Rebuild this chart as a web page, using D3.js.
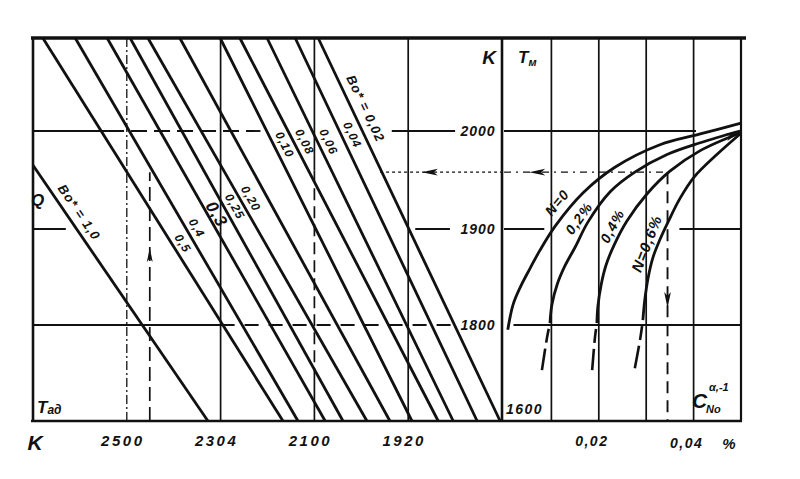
<!DOCTYPE html>
<html><head><meta charset="utf-8">
<script src="https://cdn.jsdelivr.net/npm/d3@7"></script>
<style>body{margin:0;background:#fff}svg{display:block}</style>
</head><body>
<svg id="c" width="800" height="479"></svg>
<script>
// ---------------- data ----------------
const tadTickValues = [2500, 2300, 2100, 1900];
const tadTickLabels = ["2500", "2304", "2100", "1920"];
const tmTickValues = [2000, 1900, 1800, 1600];
const tmTickLabels = ["2000", "1900", "1800", "1600"];
const cTickValues = [0.02, 0.04];
const cTickLabels = ["0,02", "0,04"];
const cGridValues = [0.01, 0.02, 0.03, 0.04];

// Bo* lines in the left panel: start (Tad, Tm) and end (Tad, Tm)
const boLabels   = ["Bo* = 1,0", "0,5", "0,4", "0,3", "0,25", "0,20", "", "0,10", "0,08", "0,06", "0,04", "Bo* = 0,02"];
const boStartTad = [2700, 2679, 2610, 2542, 2493, 2455, 2387, 2301, 2259, 2201, 2141, 2092];
const boStartTm  = [1965, 2095, 2095, 2095, 2095, 2095, 2095, 2095, 2095, 2095, 2095, 2095];
const boEndTad   = [2327, 2167, 2135, 2077, 2039, 1988, 1939, 1892, 1836, 1804, 1753, 1704];
const boEndTm    = [1600, 1600, 1600, 1600, 1600, 1600, 1600, 1600, 1600, 1600, 1600, 1600];
const boLabelTm  = [1917, 1885, 1901, 1915, 1923, 1931, null, 1986, 1989, 1989, 1996, 2023];

// right panel curves: [C, Tm]
const curveNames = ["N=0", "0,2%", "0,4%", "N=0,6%"];
const curveN0 = [[0.0008,1790],[0.0019,1821],[0.0034,1839],[0.0055,1859],[0.0076,1878],[0.0108,1903],[0.0167,1937],[0.0234,1963],[0.0329,1986],[0.0414,1997],[0.0500,2008]];
const curveN2 = [[0.0097,1802],[0.0101,1821],[0.0112,1842],[0.0129,1862],[0.0150,1881],[0.0177,1907],[0.0224,1938],[0.0276,1958],[0.0344,1976],[0.0414,1988],[0.0498,2000]];
const curveN4 = [[0.0196,1802],[0.0198,1819],[0.0205,1842],[0.0215,1862],[0.0232,1883],[0.0259,1908],[0.0302,1936],[0.0350,1959],[0.0414,1980],[0.0498,1998]];
const curveN6 = [[0.0293,1805],[0.0297,1826],[0.0304,1849],[0.0314,1870],[0.0329,1889],[0.0346,1907],[0.0371,1931],[0.0401,1953],[0.0449,1976],[0.0498,1997]];
const dashN2 = [[0.0097,1802],[0.0091,1775],[0.0080,1706]];
const dashN4 = [[0.0196,1802],[0.0192,1775],[0.0186,1706]];
const dashN6 = [[0.0293,1805],[0.0287,1769],[0.0276,1710]];
const curveLabelTm = [1927, 1911, 1903, 1885];

// worked example path
const exampleTad = 2451, exampleTm = 1958, exampleC = 0.0345, exampleTadStartH = 1960;

// ---------------- layout ----------------
const svg = d3.select("#c");
const L = 33, R = 741, T = 38, B = 421, MID = 502;
const xL = d3.scaleLinear().domain([2700, 1700]).range([L, MID]);
const xR = d3.scaleLinear().domain([0, 0.05]).range([504, R]);
const y = d3.scaleLinear().domain([1600, 1800, 1900, 2000, 2095]).range([B, 325, 229, 131, T]);
const ink = "#111";
const fontF = "'Liberation Sans', Arial, sans-serif";

function seg(x1, y1, x2, y2, w, dash) {
  const l = svg.append("line").attr("x1", x1).attr("y1", y1).attr("x2", x2).attr("y2", y2)
    .attr("stroke", ink).attr("stroke-width", w).attr("stroke-linecap", "butt");
  if (dash) l.attr("stroke-dasharray", dash);
  return l;
}

// ---------- grid (left panel verticals) ----------
seg(xL(2500), T, xL(2500), B, 1.3, "9,3,2,3");
seg(xL(2300), T, xL(2300), B, 1.7);
seg(xL(2100), T, xL(2100), y(1960), 1.7);
seg(xL(2100), y(1960), xL(2100), y(1700), 1.7, "12,6");
seg(xL(2100), y(1700), xL(2100), B, 1.7);
seg(xL(1900), T, xL(1900), B, 1.7);

// right panel verticals
cGridValues.forEach(c => seg(xR(c), T, xR(c), B, 1.7));

// horizontal gridlines
seg(L, y(2000), xL(2540), y(2000), 1.9);
seg(xL(2540), y(2000), xL(2215), y(2000), 1.9, "16,7");
seg(xL(1935), y(2000), xL(1800), y(2000), 1.9);
seg(xR(0), y(2000), xR(0.0405), y(2000), 1.9);

seg(L, y(1900), xL(2630), y(1900), 1.9);
seg(xL(1885), y(1900), xL(1811), y(1900), 1.9);
seg(xR(0), y(1900), xR(0.0085), y(1900), 1.9);
seg(xR(0.0370), y(1900), R, y(1900), 1.9);

seg(L, y(1800), xL(2300), y(1800), 1.9);
seg(xL(2300), y(1800), xL(1800), y(1800), 1.9, "14,10");
seg(xR(0.002), y(1800), R, y(1800), 1.9);

// ---------- worked example (dashed path with arrows) ----------
seg(xL(exampleTad), B, xL(exampleTad), y(exampleTm), 1.7, "14,6");
seg(xL(exampleTadStartH), y(exampleTm), MID, y(exampleTm), 1.2, "3,3");
seg(xR(0), y(exampleTm), xR(exampleC), y(exampleTm), 1.2, "7,5,2,5");
seg(xR(exampleC), y(exampleTm), xR(exampleC), B, 1.9, "12,7");

function arrow(px, py, angleDeg, size) {
  const s = size || 7;
  svg.append("path")
    .attr("d", `M${s},0 L${-s},${-s*0.42} L${-s*0.5},0 L${-s},${s*0.42}Z`)
    .attr("fill", ink)
    .attr("transform", `translate(${px},${py}) rotate(${angleDeg})`);
}
arrow(xL(exampleTad), y(1873), -90, 7);
arrow(xL(1854), y(exampleTm), 180, 8);
arrow(xR(0.007), y(exampleTm), 180, 8);
arrow(xR(exampleC), y(1826), 90, 8);

// ---------- Bo* lines ----------
boLabels.forEach((lab, i) => {
  const x1 = xL(boStartTad[i]), y1 = y(boStartTm[i]);
  const x2 = xL(boEndTad[i]), y2 = y(boEndTm[i]);
  seg(x1, y1, x2, y2, 2.8);
  if (lab && boLabelTm[i] != null) {
    const ly = y(boLabelTm[i]);
    const t = (ly - y1) / (y2 - y1);
    const lx = x1 + t * (x2 - x1);
    const ang = Math.atan2(y2 - y1, x2 - x1) * 180 / Math.PI;
    const bold = lab === "0,3";
    const big = lab.startsWith("Bo");
    const off = big ? 14 : (bold ? 9 : 11);
    svg.append("text")
      .attr("transform", `translate(${lx + off},${ly}) rotate(${ang})`)
      .attr("text-anchor", "middle")
      .attr("dominant-baseline", "central")
      .attr("font-family", fontF)
      .attr("font-style", "italic")
      .attr("font-weight", bold ? "900" : "bold")
      .attr("font-size", bold ? 17 : (big ? 13 : 12))
      .attr("letter-spacing", 1)
      .attr("fill", ink)
      .text(lab);
  }
});

// ---------- right panel curves ----------
const lineGenC = d3.line().x(d => xR(d[0])).y(d => y(d[1])).curve(d3.curveCatmullRom.alpha(0.5));
const curves = [curveN0, curveN2, curveN4, curveN6];
curves.forEach(cv => {
  svg.append("path").attr("d", lineGenC(cv)).attr("fill", "none")
    .attr("stroke", ink).attr("stroke-width", 2.8).attr("stroke-linejoin", "round");
});
[dashN2, dashN4, dashN6].forEach(cv => {
  svg.append("path").attr("d", lineGenC(cv)).attr("fill", "none")
    .attr("stroke", ink).attr("stroke-width", 2.6).attr("stroke-dasharray", "0,6,14,6,30");
});
// converging arrowhead
{
  const a = curveN4[curveN4.length - 2], b = curveN4[curveN4.length - 1];
  const ang = Math.atan2(y(b[1]) - y(a[1]), xR(b[0]) - xR(a[0])) * 180 / Math.PI;
  arrow(xR(b[0]) - 6, y(b[1]) + 1, ang, 9);
}
// curve labels
curves.forEach((cv, i) => {
  const tm = curveLabelTm[i];
  let k = 0;
  while (k < cv.length - 2 && cv[k + 1][1] < tm) k++;
  const p = cv[k], q = cv[k + 1];
  const f = (tm - p[1]) / (q[1] - p[1]);
  const cx = xR(p[0] + f * (q[0] - p[0])), cy = y(tm);
  const ang = Math.atan2(y(q[1]) - y(p[1]), xR(q[0]) - xR(p[0])) * 180 / Math.PI;
  const off = i === 0 ? 18 : 12;
  svg.append("text")
    .attr("transform", `translate(${cx - off},${cy}) rotate(${ang})`)
    .attr("text-anchor", "middle")
    .attr("dominant-baseline", "central")
    .attr("font-family", fontF).attr("font-style", "italic").attr("font-weight", "bold")
    .attr("font-size", i === 3 ? 15 : 14).attr("letter-spacing", 1)
    .attr("fill", ink).text(curveNames[i]);
});

// ---------- frame ----------
seg(L - 2, T, 746, T, 3.5);
seg(L, T, L, B, 2.6);
seg(L - 2, B, R + 1, B, 2.6);
seg(R, T, R, B, 2.2);
seg(MID, T, MID, B, 2.6);

// ---------- axis labels ----------
function txt(x, yy, s, size, anchor, extra) {
  const t = svg.append("text").attr("x", x).attr("y", yy)
    .attr("font-family", fontF).attr("font-style", "italic").attr("font-weight", "bold")
    .attr("font-size", size).attr("text-anchor", anchor || "start").attr("fill", ink).text(s);
  if (extra) extra(t);
  return t;
}
tadTickValues.forEach((v, i) => txt(xL(v) - 4, 446, tadTickLabels[i], 15, "middle", t => t.attr("letter-spacing", 2.5)));
cTickValues.forEach((v, i) => txt(xR(v) - 7, 446 + i * 2, cTickLabels[i], 14, "middle", t => t.attr("letter-spacing", 1.5)));
txt(729, 449, "%", 15, "middle");
txt(35, 450, "K", 21, "middle");

tmTickValues.forEach((v, i) => {
  if (v === 1600) txt(xR(0) + 2, y(v) - 7, tmTickLabels[i], 14, "start", t => t.attr("letter-spacing", 1.5));
  else txt(MID - 24, y(v) + 5, tmTickLabels[i], 14, "middle", t => t.attr("letter-spacing", 1));
});

// top K, Tм
txt(489, 64, "K", 19, "middle");
const tm = txt(518, 63, "T", 17, "start");
tm.append("tspan").attr("font-size", 11).attr("dy", 3).text("м");
// Tад
const tad = txt(37, 413, "T", 17, "start");
tad.append("tspan").attr("font-size", 12).attr("dy", 1).text("ад");
// C_No^{α,-1}
txt(692, 408, "C", 21, "start");
txt(706, 413, "No", 11, "start");
txt(709, 391, "α,-1", 11, "start");
// glyph at left edge
txt(31, 206, "Q", 17, "start", t => t.attr("font-weight", "900"));
</script>
</body></html>
